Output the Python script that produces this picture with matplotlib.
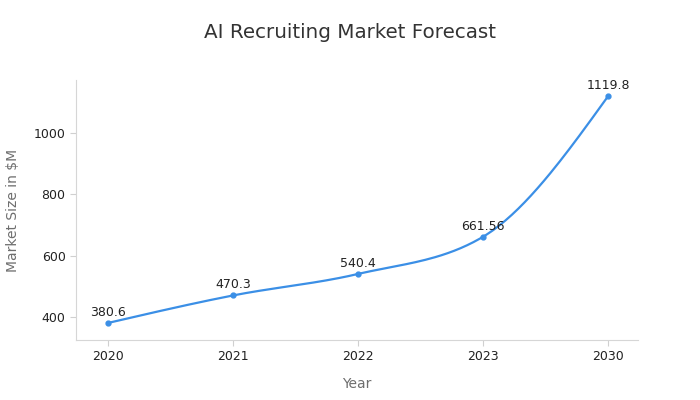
import numpy as np
import matplotlib.pyplot as plt

years = ['2020', '2021', '2022', '2023', '2030']
market = [380.6, 470.3, 540.4, 661.56, 1119.8]
labels = ['380.6', '470.3', '540.4', '661.56', '1119.8']


def monotone(x, y, n=40):
    # monotone cubic (Fritsch-Carlson, d3 style) for the drawn curve
    x = np.asarray(x, float)
    y = np.asarray(y, float)
    h = np.diff(x)
    s = np.diff(y) / h
    m = np.zeros_like(y)
    for i in range(1, len(y) - 1):
        if s[i - 1] * s[i] <= 0:
            m[i] = 0
        else:
            p = (s[i - 1] * h[i] + s[i] * h[i - 1]) / (h[i - 1] + h[i])
            m[i] = (np.sign(s[i - 1]) + np.sign(s[i])) * min(abs(s[i - 1]), abs(s[i]), 0.5 * abs(p))
    m[0] = (3 * s[0] - m[1]) / 2
    m[-1] = (3 * s[-1] - m[-2]) / 2
    xs, ys = [], []
    for i in range(len(h)):
        t = np.linspace(0, 1, n)
        h00 = 2 * t**3 - 3 * t**2 + 1
        h10 = t**3 - 2 * t**2 + t
        h01 = -2 * t**3 + 3 * t**2
        h11 = t**3 - t**2
        xs.append(x[i] + t * h[i])
        ys.append(h00 * y[i] + h10 * h[i] * m[i] + h01 * y[i + 1] + h11 * h[i] * m[i + 1])
    return np.concatenate(xs), np.concatenate(ys)


fig = plt.figure(figsize=(7, 4), dpi=100)
ax = fig.add_axes([76 / 700, 60 / 400, 562 / 700, 260 / 400])

pos = np.arange(len(years))
cx, cy = monotone(pos, market)
color = '#3b8fe6'
ax.plot(cx, cy, color=color, lw=1.6)
ax.plot(pos, market, 'o', color=color, ms=3.5)
for p, v, t in zip(pos, market, labels):
    ax.annotate(t, (p, v), xytext=(0, 3), textcoords='offset points',
                ha='center', va='bottom', fontsize=9, color='#222222')

ax.set_xlim(-0.256, 4.24)
ax.set_ylim(325, 1173)
ax.set_xticks(pos)
ax.set_xticklabels(years)
ax.set_yticks([400, 600, 800, 1000])
for sp in ['top', 'right']:
    ax.spines[sp].set_visible(False)
for sp in ['left', 'bottom']:
    ax.spines[sp].set_color('#d6d6d6')
ax.tick_params(colors='#d0d0d0', labelcolor='#222222', labelsize=9, length=4)
ax.set_xlabel('Year', fontsize=10, color='#6e6e6e', labelpad=10)
ax.set_ylabel('Market Size in $M', fontsize=10, color='#6e6e6e', labelpad=10)
fig.text(350 / 700, 1 - 33 / 400, 'AI Recruiting Market Forecast', ha='center', va='center',
         fontsize=14.3, color='#333333')

fig.savefig('out.png', dpi=100)
